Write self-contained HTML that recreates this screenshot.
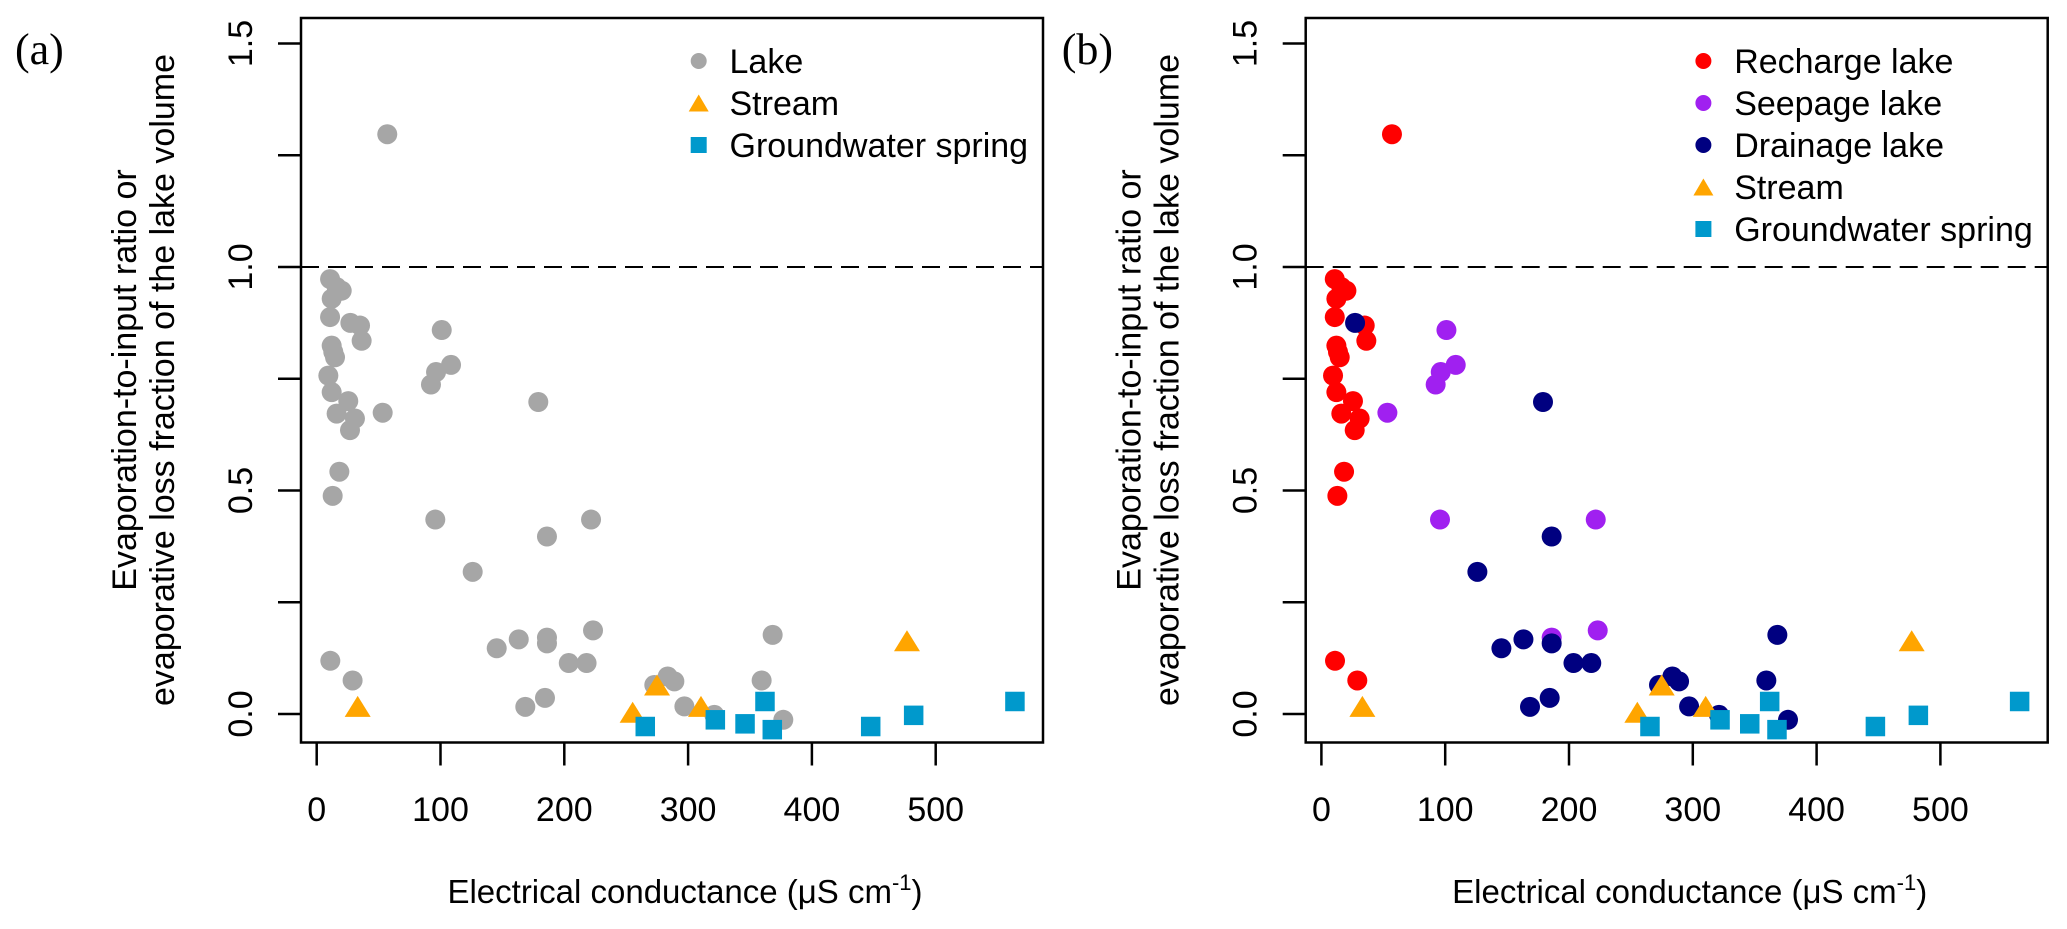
<!DOCTYPE html>
<html><head><meta charset="utf-8"><style>
html,body{margin:0;padding:0;background:#fff;}
svg{display:block;font-family:"Liberation Sans",Arial,sans-serif;}
</style></head><body>
<svg id="fig" width="2067" height="929" viewBox="0 0 2067 929" xmlns="http://www.w3.org/2000/svg"></svg>
<script>
// ---- data ----
const xTicks = [0, 100, 200, 300, 400, 500];
const yTicks = [0, 0.25, 0.5, 0.75, 1.0, 1.25, 1.5];
const yTickLabels = ["0.0", "", "0.5", "", "1.0", "", "1.5"];
const rechargeX = [10.8,16.1,20.2,12.1,10.8,35,36.3,12.1,13.4,14.8,9.4,12.1,25.5,16.1,30.9,26.9,18.3,12.9,11,29,57];
const rechargeY = [0.973,0.955,0.947,0.929,0.888,0.869,0.835,0.824,0.81,0.798,0.757,0.72,0.70,0.672,0.661,0.635,0.542,0.488,0.119,0.075,1.297];
const seepageX = [101,108.5,96.4,92.3,53.3,95.8,221.6,223.2,186];
const seepageY = [0.859,0.781,0.765,0.737,0.674,0.435,0.435,0.187,0.171];
const drainageX = [27.2,179,186,126,145.4,163.2,186,203.6,218,168.5,184.4,272.7,283.5,288.9,297,321.2,368.3,359.4,376.9];
const drainageY = [0.875,0.698,0.397,0.318,0.147,0.167,0.158,0.114,0.114,0.016,0.036,0.065,0.084,0.073,0.017,-0.002,0.177,0.075,-0.013];
const streamX = [33.1,255.2,274.9,310.4,476.8];
const streamY = [0.017,0.004,0.065,0.017,0.164];
const springX = [265.4,322,346,362.1,368,447.5,482.2,564];
const springY = [-0.028,-0.013,-0.022,0.028,-0.035,-0.028,-0.003,0.028];
const legendA = ["Lake","Stream","Groundwater spring"];
const legendB = ["Recharge lake","Seepage lake","Drainage lake","Stream","Groundwater spring"];

const NS = "http://www.w3.org/2000/svg";
const svg = document.getElementById('fig');
function mk(tag, attrs, parent){ const e=document.createElementNS(NS,tag); for(const k in attrs) e.setAttribute(k,attrs[k]); (parent||svg).appendChild(e); return e; }

const C = {gray:"#a6a6a6", red:"#ff0000", purple:"#a020f0", navy:"#000080", orange:"#ffa500", spring:"#0099cc"};

function panel(off, label, isB){
  const g = mk('g',{});
  
  
  const L=301+off, R=1043+off, T=18, B=742.5;
  const sx = v => 316.7 + off + v*1.238;
  const sy = v => 714 - v*447;
  // panel label
  const pl = mk('text',{x:15+off+(isB?42:0), y:64, 'font-family':'"Liberation Serif",serif', 'font-size':44, fill:'#000'}, g);
  pl.textContent = label;
  
  
  // dashed line
  const dl = mk('line',{x1:L, x2:R, y1:sy(1), y2:sy(1), stroke:'#000','stroke-width':2,'stroke-dasharray':'18 9'}, g);
  
  
  // box
  const bx = mk('rect',{x:L, y:T, width:R-L, height:B-T, fill:'none', stroke:'#000','stroke-width':2.5}, g);
  
  
  // x ticks
  xTicks.forEach(t=>{
    const tl = mk('line',{x1:sx(t), x2:sx(t), y1:B, y2:B+23, stroke:'#000','stroke-width':2.5}, g);
    
    
    const tx = mk('text',{x:sx(t), y:821, 'text-anchor':'middle','font-size':34, fill:'#000'}, g);
    tx.textContent = t;
    
    
  });
  yTicks.forEach((t,i)=>{
    const tl = mk('line',{x1:L-23, x2:L, y1:sy(t), y2:sy(t), stroke:'#000','stroke-width':2.5}, g);
    
    
    if(yTickLabels[i]){
      const tx = mk('text',{x:0,y:0,'text-anchor':'middle','font-size':34, fill:'#000', transform:`translate(${252+off},${sy(t)}) rotate(-90)`}, g);
      tx.textContent = yTickLabels[i];
      
      
    }
  });
  // axis titles
  const xt = mk('text',{x:685+off, y:903, 'text-anchor':'middle','font-size':33, fill:'#000'}, g);
  xt.innerHTML = 'Electrical conductance (μS cm<tspan dy="-13" font-size="22">-1</tspan><tspan dy="13">)</tspan>';
  
  
  const y1 = mk('text',{x:0,y:0,'text-anchor':'middle','font-size':34, fill:'#000', transform:`translate(${136+off},380) rotate(-90)`}, g);
  y1.textContent = 'Evaporation-to-input ratio or';
  
  
  const y2 = mk('text',{x:0,y:0,'text-anchor':'middle','font-size':34, fill:'#000', transform:`translate(${174+off},380) rotate(-90)`}, g);
  y2.textContent = 'evaporative loss fraction of the lake volume';
  
  

  function circles(xs, ys, col, name){
    xs.forEach((x,i)=>{
      const c = mk('circle',{cx:sx(x), cy:sy(ys[i]), r:10, fill:col}, g);
      
      
    });
  }
  function tri(cx, cy, w, h, parent){
    return mk('polygon',{points:`${cx-w/2},${cy+h/2} ${cx+w/2},${cy+h/2} ${cx},${cy-h/2}`, fill:C.orange}, parent);
  }
  if(isB){
    circles(rechargeX, rechargeY, C.red, 'recharge-lake-point');
    circles(seepageX, seepageY, C.purple, 'seepage-lake-point');
    circles(drainageX, drainageY, C.navy, 'drainage-lake-point');
  } else {
    circles(rechargeX.concat(seepageX, drainageX), rechargeY.concat(seepageY, drainageY), C.gray, 'lake-point');
  }
  streamX.forEach((x,i)=>{
    const p = tri(sx(x), sy(streamY[i]), 26, 21, g);
    
    
  });
  springX.forEach((x,i)=>{
    const s = mk('rect',{x:sx(x)-9.75, y:sy(springY[i])-9.75, width:19.5, height:19.5, fill:C.spring}, g);
    
    
  });

  // legend
  const labels = isB ? legendB : legendA;
  const styles = isB ? ['c:'+C.red,'c:'+C.purple,'c:'+C.navy,'t','s'] : ['c:'+C.gray,'t','s'];
  const lg = mk('g',{}, g);
  
  
  labels.forEach((lab,i)=>{
    const y = 61 + i*42;
    const mx = 397.7 + L;
    const st = styles[i];
    let m;
    if(st.startsWith('c:')) m = mk('circle',{cx:mx, cy:y, r:8, fill:st.slice(2)}, lg);
    else if(st==='t') m = tri(mx, y, 20, 17, lg);
    else m = mk('rect',{x:mx-8, y:y-8, width:16, height:16, fill:C.spring}, lg);
    
    
    const t = mk('text',{x:L+428.5, y:y+12, 'font-size':34, fill:'#000'}, lg);
    t.textContent = lab;
    
    
  });
}
panel(0, '(a)', false);
panel(1004.7, '(b)', true);
</script>
</body></html>
